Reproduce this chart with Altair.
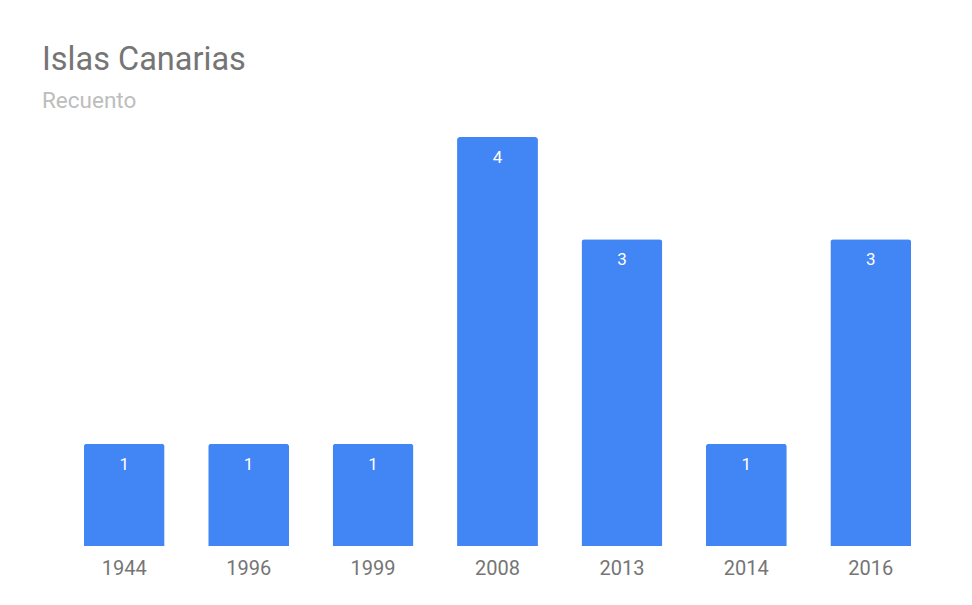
import altair as alt
import pandas as pd

years = ["1944", "1996", "1999", "2008", "2013", "2014", "2016"]
counts = [1, 1, 1, 4, 3, 1, 3]

df = pd.DataFrame({"year": years, "count": counts})

base = alt.Chart(df).encode(
    x=alt.X("year:N", sort=years,
            scale=alt.Scale(paddingInner=0.35, paddingOuter=0.175),
            axis=alt.Axis(title=None, labelAngle=0, domain=False, ticks=False,
                          labelPadding=12, labelFontSize=20, labelColor="#757575",
                          labelFont="Roboto", grid=False)),
)

bars = base.mark_bar(color="#4285F4", cornerRadiusTopLeft=3, cornerRadiusTopRight=3).encode(
    y=alt.Y("count:Q", scale=alt.Scale(domain=[0, 4], nice=False), axis=None)
)

labels = base.mark_text(color="white", font="Roboto", fontSize=17, baseline="top", dy=13).encode(
    y=alt.Y("count:Q"),
    text=alt.Text("count:Q"),
)

chart = alt.layer(bars, labels).properties(
    width=871,
    height=409,
    padding={"left": 34, "top": 36, "right": 20, "bottom": 20},
    title=alt.TitleParams(
        text="Islas Canarias",
        subtitle="Recuento",
        anchor="start",
        frame="bounds",
        dx=-20,
        font="Roboto",
        fontSize=32.5,
        fontWeight="normal",
        color="#757575",
        subtitleFont="Roboto",
        subtitleFontSize=22.5,
        subtitleColor="#bdbdbd",
        subtitlePadding=13,
        offset=25,
    ),
).configure_view(stroke=None)

chart.save("out.html", embed_options={"renderer": "svg", "actions": False})
